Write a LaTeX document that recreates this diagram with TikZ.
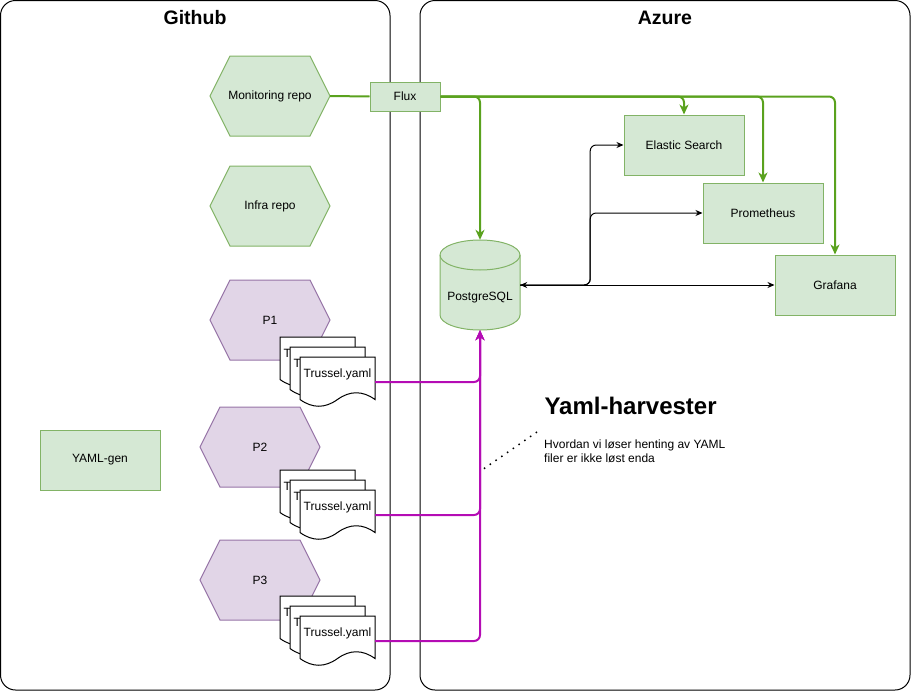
\documentclass[tikz,border=0pt]{standalone}
\usepackage{fontspec}
\setmainfont{Liberation Sans}
\usepackage{tikz}
\usetikzlibrary{arrows.meta}

\definecolor{boxgreen}{HTML}{D5E8D4}
\definecolor{edgegreen}{HTML}{82B366}
\definecolor{boxpurple}{HTML}{E1D5E7}
\definecolor{edgepurple}{HTML}{9673A6}
\definecolor{fluxgreen}{HTML}{5AA21E}
\definecolor{yamlpink}{HTML}{B40CB4}

% hexagon: style, name, x, y, text
\newcommand{\hexrepo}[5]{%
  \filldraw[#1] (#3-60,#4) -- (#3-40,#4-40) -- (#3+40,#4-40) -- (#3+60,#4)
    -- (#3+40,#4+40) -- (#3-40,#4+40) -- cycle;
  \node[minimum width=120,minimum height=80] (#2) at (#3,#4) {#5};
}
% document: name, x, y
\newcommand{\trusseldoc}[3]{%
  \begin{scope}[shift={(#2,#3)}]
    \filldraw[fill=white,draw=black,line width=1] (0,0) -- (75,0) -- (75,42.5)
      .. controls (62.5,33.5) and (50,33.5) .. (37.5,42.5)
      .. controls (25,51.5) and (12.5,51.5) .. (0,42.5) -- cycle;
    \node (#1) at (37.5,17) {Trussel.yaml};
    \coordinate (#1-out) at (75,25);
  \end{scope}
}

\begin{document}
\begin{tikzpicture}
[x=1pt,y=-1pt,>={Stealth[length=7,width=6]},
 every node/.style={font=\fontsize{12}{14}\selectfont},
 container/.style={draw=black,line width=1,rounded corners=15},
 greenbox/.style={fill=boxgreen,draw=edgegreen,line width=1},
 purplebox/.style={fill=boxpurple,draw=edgepurple,line width=1},
 service/.style={greenbox,minimum width=120,minimum height=60},
 fluxline/.style={draw=fluxgreen,line width=2,rounded corners=6,>={Stealth[length=10,width=9,inset=3]}},
 yamlline/.style={draw=yamlpink,line width=2,rounded corners=6,>={Stealth[length=10,width=9,inset=3]}},
 dataline/.style={draw=black,line width=1,rounded corners=6},
 title/.style={font=\fontsize{19.5}{22}\selectfont\bfseries}]
\useasboundingbox (0,0) rectangle (911,691);

% containers
\draw[container] (0.5,0.5) rectangle (390,690);
\draw[container] (420,0.5) rectangle (910,690);
\node[title] (github) at (195,18) {Github};
\node[title] (azure) at (665,18) {Azure};

% github side
\hexrepo{greenbox}{mon}{270}{96}{Monitoring repo}
\hexrepo{greenbox}{infra}{270}{206}{Infra repo}
\hexrepo{purplebox}{p1}{270}{320}{P1}
\hexrepo{purplebox}{p2}{260}{447}{P2}
\hexrepo{purplebox}{p3}{260}{580}{P3}
\node[service] (yamlgen) at (100,460) {YAML-gen};

\trusseldoc{d1a}{280}{337}
\trusseldoc{d1b}{290}{347}
\trusseldoc{d1c}{300}{357}
\trusseldoc{d2a}{280}{470}
\trusseldoc{d2b}{290}{480}
\trusseldoc{d2c}{300}{490}
\trusseldoc{d3a}{280}{596}
\trusseldoc{d3b}{290}{606}
\trusseldoc{d3c}{300}{616}

% azure side
\node[greenbox,minimum width=70,minimum height=29] (flux) at (405,96.5) {Flux};
\node[service] (es) at (684,145) {Elastic Search};
\node[service] (prom) at (763,213) {Prometheus};
\node[service] (graf) at (835,285) {Grafana};

\filldraw[greenbox] (440,255) -- (440,315) arc[start angle=180,end angle=0,x radius=40,y radius=15]
  -- (520,255) arc[start angle=0,end angle=-180,x radius=40,y radius=15] -- cycle;
\draw[edgegreen,line width=1] (440,255) arc[start angle=180,end angle=0,x radius=40,y radius=15];
\node[minimum width=80,minimum height=90] (pg) at (480,285) {};
\node (pglabel) at (480,298) {PostgreSQL};

\node[anchor=west,font=\fontsize{24}{26}\selectfont\bfseries] (harvester) at (541,406) {Yaml-harvester};
\node[anchor=west,align=left,inner sep=0] (note) at (544,451) {Hvordan vi løser henting av YAML\\filer er ikke løst enda};
\coordinate (dotA) at (537,432);
\coordinate (dotB) at (482,470);

% flux
\draw[fluxline] (mon.east) -- (flux.west);
\draw[fluxline,->] (flux.east) -| (pg.north);
\draw[fluxline,->] (flux.east) -| (es.north);
\draw[fluxline,->] (flux.east) -| (prom.north);
\draw[fluxline,->] (flux.east) -| (graf.north);

% data
\draw[dataline,<->] (pg.east) -- (graf.west);
\draw[dataline,->] (pg.east) -- ++(70,0) |- (es.west);
\draw[dataline,->] (pg.east) -- ++(70,0) |- (prom.west);

% yaml files
\draw[yamlline,->] (d1c-out) -| (pg.south);
\draw[yamlline,->] (d2c-out) -| (pg.south);
\draw[yamlline,->] (d3c-out) -| (pg.south);

\draw[line width=1.5,dash pattern=on 1.5 off 5.5] (dotA) -- (dotB);
\end{tikzpicture}
\end{document}
